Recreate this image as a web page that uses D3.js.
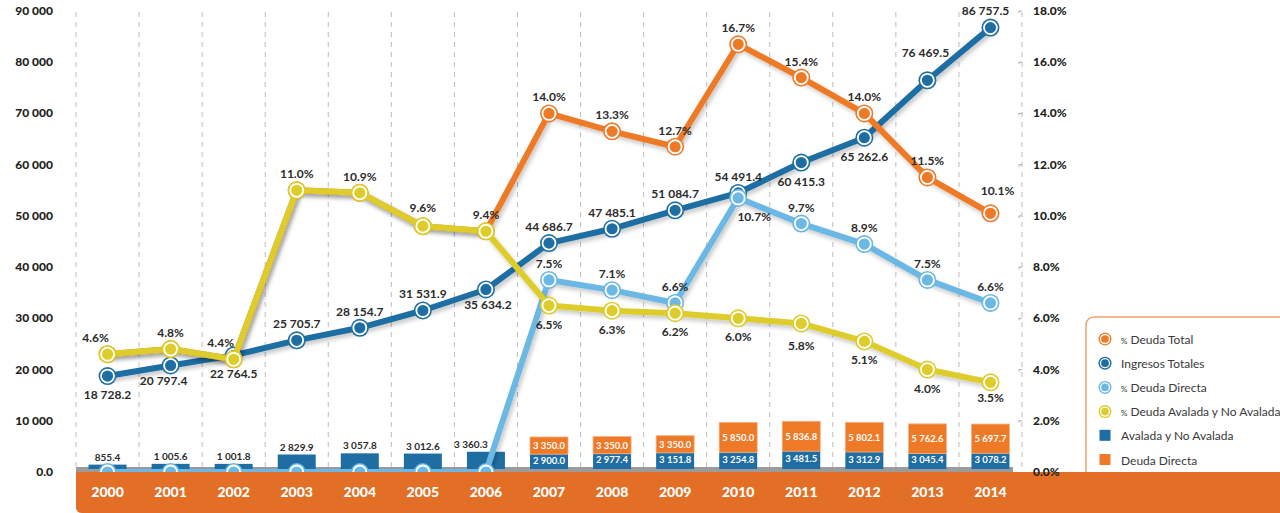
<!DOCTYPE html>
<html>
<head>
<meta charset="utf-8">
<script src="https://cdn.jsdelivr.net/npm/d3@7"></script>
<style>
  body { margin: 0; background: #fff; }
  svg { display: block; font-family: Lato, "Open Sans", sans-serif; }
  .lbl { font-size: 12px; font-weight: 700; fill: #2b2b2b; }
  .axis-lbl { font-size: 12px; font-weight: 900; fill: #231f20; }
</style>
</head>
<body>
<div id="grafica"></div>
<script>
// datos
const years = ["2000","2001","2002","2003","2004","2005","2006","2007","2008","2009","2010","2011","2012","2013","2014"];
const ingresosTotales = [18728.2, 20797.4, 22764.5, 25705.7, 28154.7, 31531.9, 35634.2, 44686.7, 47485.1, 51084.7, 54491.4, 60415.3, 65262.6, 76469.5, 86757.5];
const pctDeudaTotal = [4.6, 4.8, 4.4, 11.0, 10.9, 9.6, 9.4, 14.0, 13.3, 12.7, 16.7, 15.4, 14.0, 11.5, 10.1];
const pctDeudaDirecta = [0, 0, 0, 0, 0, 0, 0, 7.5, 7.1, 6.6, 10.7, 9.7, 8.9, 7.5, 6.6];
const pctDeudaAvalada = [4.6, 4.8, 4.4, 11.0, 10.9, 9.6, 9.4, 6.5, 6.3, 6.2, 6.0, 5.8, 5.1, 4.0, 3.5];
const avaladaNoAvalada = [855.4, 1005.6, 1001.8, 2829.9, 3057.8, 3012.6, 3360.3, 2900.0, 2977.4, 3151.8, 3254.8, 3481.5, 3312.9, 3045.4, 3078.2];
const deudaDirecta = [0, 0, 0, 0, 0, 0, 0, 3350.0, 3350.0, 3350.0, 5850.0, 5836.8, 5802.1, 5762.6, 5697.7];
const leftTicks = [0, 10000, 20000, 30000, 40000, 50000, 60000, 70000, 80000, 90000];
const rightTicks = [0, 2, 4, 6, 8, 10, 12, 14, 16, 18];

// colores
const cNaranja = "#ee7a27";
const cAzul = "#1f6ea3";
const cCeleste = "#6cb8e4";
const cAmarillo = "#ddcc2c";
const cFranja = "#e36f26";

// dimensiones
const W = 1280, H = 513;
const plotLeft = 76, plotRight = 1022, plotTop = 11, plotBottom = 472;

const locale = d3.formatLocale({ decimal: ".", thousands: " ", grouping: [3] });
const fmtNum = locale.format(",.1f");
const fmtEje = locale.format(",");
const fmtPct = v => d3.format(".1f")(v) + "%";

const svg = d3.select("#grafica").append("svg")
  .attr("width", W)
  .attr("height", H);

const defs = svg.append("defs");
const sombra = defs.append("filter").attr("id", "sombra")
  .attr("x", "-5%").attr("y", "-5%").attr("width", "110%").attr("height", "120%");
sombra.append("feDropShadow")
  .attr("dx", 2).attr("dy", 3).attr("stdDeviation", 2)
  .attr("flood-color", "#000").attr("flood-opacity", 0.22);

// escalas
const x = d3.scaleBand().domain(years).range([plotLeft, plotRight]).padding(0);
const cx = d => x(d) + x.bandwidth() / 2;
const yL = d3.scaleLinear().domain([0, 90000]).range([plotBottom, plotTop]);
const yR = d3.scaleLinear().domain([0, 18]).range([plotBottom, plotTop]);

// lineas de cuadricula punteadas
svg.append("g").selectAll("line")
  .data(years.concat(["fin"])).enter()
  .append("line")
  .attr("x1", (d, i) => plotLeft + i * x.bandwidth())
  .attr("x2", (d, i) => plotLeft + i * x.bandwidth())
  .attr("y1", 12)
  .attr("y2", 468)
  .attr("stroke", "#bdbdbd")
  .attr("stroke-width", 1)
  .attr("stroke-dasharray", "5,5");

// marcas del eje derecho
svg.append("g").selectAll("path")
  .data(rightTicks.slice(1)).enter()
  .append("path")
  .attr("d", d => `M${plotRight - 3},${yR(d) + 2}V${yR(d)}H${plotRight}`)
  .attr("fill", "none")
  .attr("stroke", "#aaa")
  .attr("stroke-width", 1);

// etiquetas del eje izquierdo
svg.append("g").selectAll("text")
  .data(leftTicks).enter()
  .append("text")
  .attr("class", "axis-lbl")
  .attr("x", 53)
  .attr("y", d => yL(d) + 4)
  .attr("text-anchor", "end")
  .text(d => d === 0 ? "0.0" : fmtEje(d));

// barra gris base
svg.append("rect")
  .attr("x", plotLeft).attr("y", 467)
  .attr("width", 1013 - plotLeft).attr("height", 5)
  .attr("fill", "#9b9b9b");

// barras apiladas
const bw = 38;
const barras = svg.append("g");
barras.selectAll(".b-aval")
  .data(years).enter()
  .append("rect")
  .attr("x", d => cx(d) - bw / 2)
  .attr("width", bw)
  .attr("y", (d, i) => yL(avaladaNoAvalada[i]) - 3)
  .attr("height", (d, i) => yL(0) - yL(avaladaNoAvalada[i]))
  .attr("fill", cAzul);
barras.selectAll(".b-dir")
  .data(years.filter((d, i) => deudaDirecta[i] > 0)).enter()
  .append("rect")
  .attr("x", d => cx(d) - bw / 2)
  .attr("width", bw)
  .attr("y", d => { const i = years.indexOf(d); return yL(avaladaNoAvalada[i] + deudaDirecta[i]) - 3; })
  .attr("height", d => { const i = years.indexOf(d); return yL(avaladaNoAvalada[i]) - yL(avaladaNoAvalada[i] + deudaDirecta[i]); })
  .attr("fill", cNaranja)
  .attr("stroke", "#f6b185")
  .attr("stroke-width", 0.8);

// etiquetas de barras
years.forEach((d, i) => {
  const topA = yL(avaladaNoAvalada[i]) - 3;
  if (deudaDirecta[i] === 0) {
    barras.append("text")
      .attr("x", cx(d) - (i === 6 ? 15 : 0)).attr("y", topA - 4)
      .attr("text-anchor", "middle")
      .attr("font-size", 10).attr("font-weight", 700).attr("fill", "#2b2b2b")
      .text(fmtNum(avaladaNoAvalada[i]));
  } else {
    const topD = yL(avaladaNoAvalada[i] + deudaDirecta[i]) - 3;
    barras.append("text")
      .attr("x", cx(d)).attr("y", (topA + 466) / 2 + 3.5)
      .attr("text-anchor", "middle")
      .attr("font-size", 9.5).attr("font-weight", 700).attr("fill", "#fff")
      .text(fmtNum(avaladaNoAvalada[i]));
    barras.append("text")
      .attr("x", cx(d)).attr("y", (topA + topD) / 2 + 3.5)
      .attr("text-anchor", "middle")
      .attr("font-size", 9.5).attr("font-weight", 700).attr("fill", "#fff")
      .text(fmtNum(deudaDirecta[i]));
  }
});

// series de lineas
function dibujarSerie(valores, escala, color) {
  const g = svg.append("g");
  const linea = d3.line()
    .x((v, i) => cx(years[i]))
    .y(v => escala(v));
  g.append("path")
    .attr("d", linea(valores))
    .attr("fill", "none")
    .attr("stroke", color)
    .attr("stroke-width", 6)
    .attr("stroke-linejoin", "round")
    .attr("filter", "url(#sombra)");
  g.selectAll("circle.out")
    .data(valores).enter()
    .append("circle")
    .attr("cx", (v, i) => cx(years[i]))
    .attr("cy", v => escala(v))
    .attr("r", 9)
    .attr("fill", color);
  g.selectAll("circle.in")
    .data(valores).enter()
    .append("circle")
    .attr("cx", (v, i) => cx(years[i]))
    .attr("cy", v => escala(v))
    .attr("r", 6.5)
    .attr("fill", color)
    .attr("stroke", "#fff")
    .attr("stroke-width", 1.8);
}

dibujarSerie(ingresosTotales, yL, cAzul);
dibujarSerie(pctDeudaTotal, yR, cNaranja);
dibujarSerie(pctDeudaDirecta, yR, cCeleste);
dibujarSerie(pctDeudaAvalada, yR, cAmarillo);

// etiquetas de datos: a = arriba, b = abajo, "" = sin etiqueta
const posIngresos = ["b","b","b","a","a","a","b","a","a","a","a","b","b","a","a"];
const posTotal = ["","","","","","","","a","a","a","a","a","a","a","a"];
const posDirecta = ["","","","","","","","a","a","a","b","a","a","a","a"];
const posAvalada = ["a","a","a","a","a","a","a","b","b","b","b","b","b","b","b"];
const ajustes = { "ing-1": [-7, -3], "ing-13": [-2, -11], "ing-14": [-5, -1], "ing-6": [2, -3],
  "ava-0": [-12, 0], "ava-2": [-13, 0], "ava-5": [0, -2], "dir-10": [16, 0],
  "tot-14": [7, -6], "ava-14": [0, -3], "ava-11": [0, 4] };

function etiquetas(valores, escala, pos, fmt, clave) {
  const g = svg.append("g");
  valores.forEach((v, i) => {
    if (!pos[i]) return;
    const aj = ajustes[clave + "-" + i] || [0, 0];
    g.append("text")
      .attr("class", "lbl")
      .attr("x", cx(years[i]) + aj[0])
      .attr("y", escala(v) + (pos[i] === "a" ? -12 : 23) + aj[1])
      .attr("text-anchor", "middle")
      .text(fmt(v));
  });
}
etiquetas(ingresosTotales, yL, posIngresos, fmtNum, "ing");
etiquetas(pctDeudaTotal, yR, posTotal, fmtPct, "tot");
etiquetas(pctDeudaDirecta, yR, posDirecta, fmtPct, "dir");
etiquetas(pctDeudaAvalada, yR, posAvalada, fmtPct, "ava");

// leyenda
const ley = svg.append("g");
ley.append("rect")
  .attr("x", 1086).attr("y", 317)
  .attr("width", 210).attr("height", 170)
  .attr("rx", 8)
  .attr("fill", "#fff")
  .attr("stroke", "#f2a36c")
  .attr("stroke-width", 1.5);
const items = [
  { pct: true, name: "Deuda Total", color: cNaranja, tipo: "c" },
  { pct: false, name: "Ingresos Totales", color: cAzul, tipo: "c" },
  { pct: true, name: "Deuda Directa", color: cCeleste, tipo: "c" },
  { pct: true, name: "Deuda Avalada y No Avalada", color: cAmarillo, tipo: "c" },
  { pct: false, name: "Avalada y No Avalada", color: cAzul, tipo: "s" },
  { pct: false, name: "Deuda Directa", color: cNaranja, tipo: "s" }
];
items.forEach((it, i) => {
  const yy = 339 + i * 24.2;
  if (it.tipo === "c") {
    ley.append("circle").attr("cx", 1105).attr("cy", yy).attr("r", 6.5).attr("fill", it.color);
    ley.append("circle").attr("cx", 1105).attr("cy", yy).attr("r", 4.5)
      .attr("fill", it.color).attr("stroke", "#fff").attr("stroke-width", 1.3);
  } else {
    ley.append("rect").attr("x", 1099.5).attr("y", yy - 6).attr("width", 11).attr("height", 11).attr("fill", it.color);
  }
  const t = ley.append("text")
    .attr("x", 1121).attr("y", yy + 4.5)
    .attr("font-size", 12).attr("fill", "#3a3a3a");
  if (it.pct) {
    t.append("tspan").attr("font-size", 8).text("%");
    t.append("tspan").text(" " + it.name);
  } else {
    t.text(it.name);
  }
});

// franja naranja inferior
svg.append("path")
  .attr("d", `M${plotLeft},${plotBottom}H${W}V${H}H${plotLeft + 6}Q${plotLeft},${H} ${plotLeft},${H - 6}Z`)
  .attr("fill", cFranja);

// etiquetas de años
svg.append("g").selectAll("text")
  .data(years).enter()
  .append("text")
  .attr("x", d => cx(d))
  .attr("y", 497)
  .attr("text-anchor", "middle")
  .attr("font-size", 14)
  .attr("font-weight", 900)
  .attr("fill", "#fff")
  .text(d => d);

// etiquetas del eje derecho
svg.append("g").selectAll("text")
  .data(rightTicks).enter()
  .append("text")
  .attr("class", "axis-lbl")
  .attr("x", 1033)
  .attr("y", d => yR(d) + 4)
  .text(d => d3.format(".1f")(d) + "%");
</script>
</body>
</html>
